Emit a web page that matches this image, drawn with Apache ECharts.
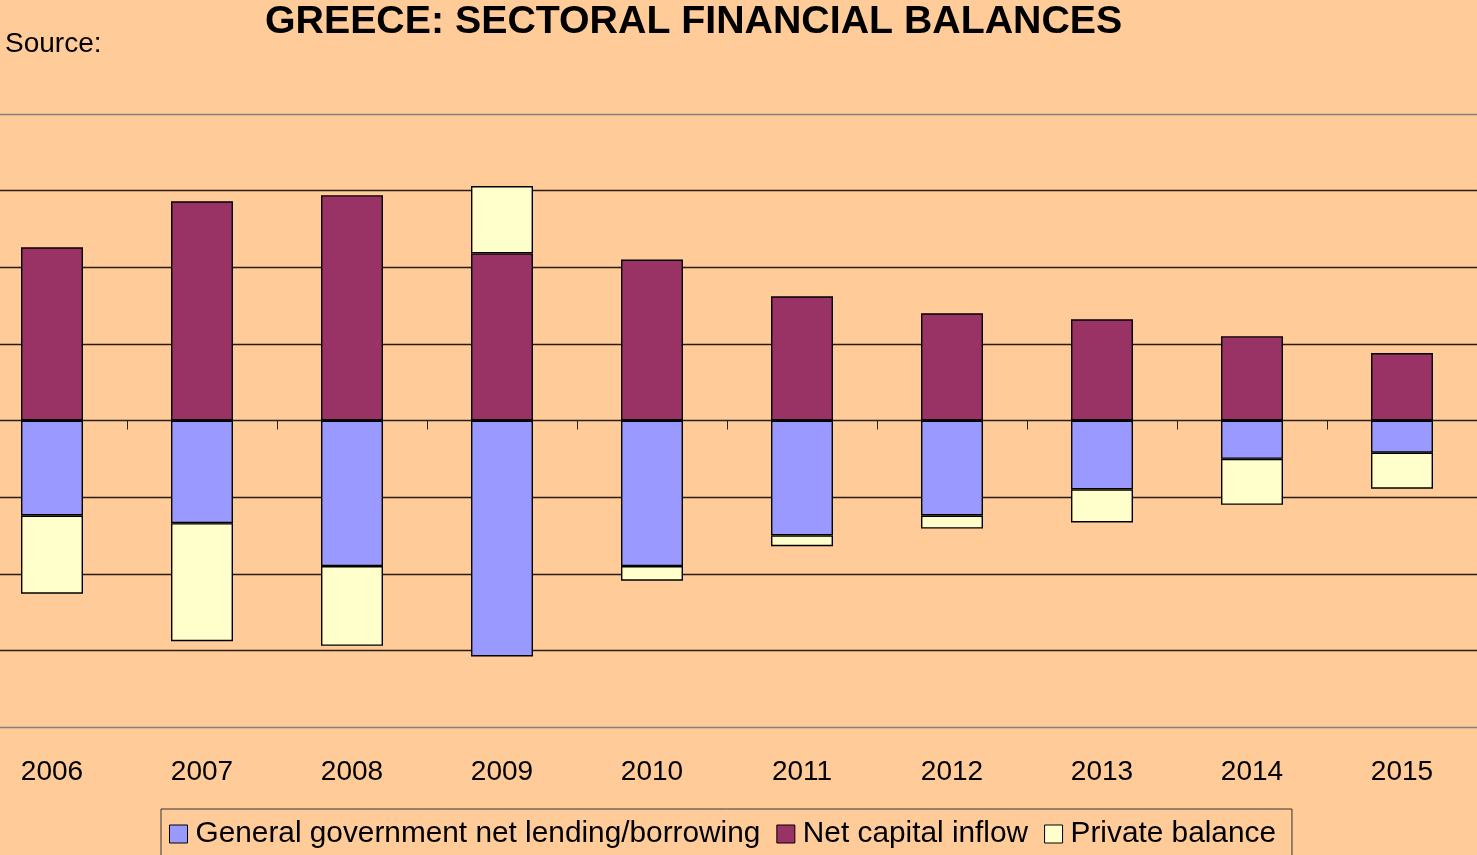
<!DOCTYPE html>
<html>
<head>
<meta charset="utf-8">
<script src="https://cdn.jsdelivr.net/npm/echarts@6/dist/echarts.min.js"></script>
<style>
html,body{margin:0;padding:0;background:#FFCC99;}
#chart{width:1477px;height:855px;}
</style>
</head>
<body>
<div id="chart"></div>
<script>
const years = ['2006','2007','2008','2009','2010','2011','2012','2013','2014','2015'];
const govBalance = [-6.2, -6.7, -9.5, -15.4, -9.5, -7.5, -6.2, -4.5, -2.5, -2.1];
const netCapitalInflow = [11.3, 14.3, 14.7, 10.9, 10.5, 8.1, 7.0, 6.6, 5.5, 4.4];
const privateBalance = [-5.1, -7.7, -5.2, 4.4, -0.95, -0.7, -0.85, -2.15, -3.0, -2.35];
const seriesNames = ['General government net lending/borrowing', 'Net capital inflow', 'Private balance'];

const FONT = 'Liberation Sans, Arial, sans-serif';
const chart = echarts.init(document.getElementById('chart'), null, {renderer: 'canvas'});
const barStyle = (c) => ({color: c, borderColor: '#000', borderWidth: 1.4});

chart.setOption({
  backgroundColor: '#FFCC99',
  animation: false,
  title: [
    {text: 'GREECE: SECTORAL FINANCIAL BALANCES', left: 265, top: 3, padding: 0,
     textStyle: {fontFamily: FONT, fontSize: 39.3, fontWeight: 'bold', color: '#000'}},
    {text: 'Source:', left: 5, top: 30, padding: 0,
     textStyle: {fontFamily: FONT, fontSize: 28, fontWeight: 'normal', color: '#000'}}
  ],
  legend: {
    data: seriesNames,
    left: 161, top: 809,
    padding: [10, 16, 10, 8],
    itemGap: 16,
    itemWidth: 18, itemHeight: 18,
    icon: 'rect',
    borderColor: '#333', borderWidth: 1,
    itemStyle: {borderColor: '#000', borderWidth: 1},
    textStyle: {fontFamily: FONT, fontSize: 29.8, color: '#000', padding: [0, 0, 0, 3]}
  },
  grid: {left: -23, top: 114, width: 1500, height: 613, containLabel: false, outerBoundsMode: 'none'},
  xAxis: [
    {type: 'category', data: years, position: 'bottom',
     axisLine: {show: false, onZero: false}, axisTick: {show: false},
     axisLabel: {fontFamily: FONT, fontSize: 28, color: '#000', margin: 31}},
    {type: 'category', data: years, position: 'top',
     axisLine: {show: true, onZero: true, lineStyle: {color: '#222', width: 1}},
     axisTick: {show: true, inside: true, length: 9, lineStyle: {color: '#222'}},
     axisLabel: {show: false}}
  ],
  yAxis: {
    type: 'value', min: -20, max: 20, interval: 5,
    axisLabel: {show: false}, axisLine: {show: false}, axisTick: {show: false},
    splitLine: {show: true, lineStyle: {width: 1.3,
      color: ['#808080', '#2a1a10', '#2a1a10', '#2a1a10', '#2a1a10', '#2a1a10', '#2a1a10', '#2a1a10']}}
  },
  series: [
    {name: seriesNames[0], type: 'bar', stack: 'total', data: govBalance, barWidth: 62, itemStyle: barStyle('#9999FF')},
    {name: seriesNames[1], type: 'bar', stack: 'total', data: netCapitalInflow, barWidth: 62, itemStyle: barStyle('#993366')},
    {name: seriesNames[2], type: 'bar', stack: 'total', data: privateBalance, barWidth: 62, itemStyle: barStyle('#FFFFCC')}
  ]
});
</script>
</body>
</html>
